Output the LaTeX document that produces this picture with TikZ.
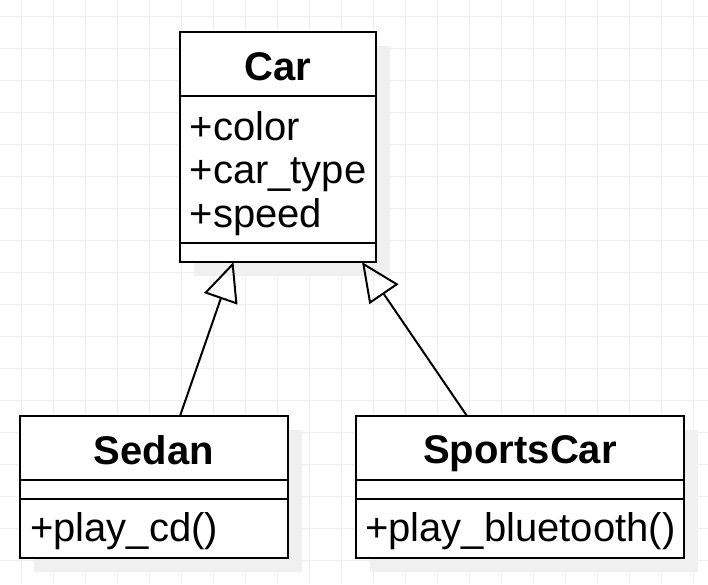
\documentclass[tikz,border=0pt]{standalone}
\usepackage{fontspec}
\setmainfont{Liberation Sans}
\usetikzlibrary{arrows.meta}
\definecolor{gridc}{HTML}{EFEFEF}
\definecolor{shadowc}{HTML}{F0F0F0}
\tikzset{
  classbox/.style={draw=black, line width=2pt, fill=white, rectangle, inner sep=0pt, outer sep=0pt},
  shadowbox/.style={fill=shadowc},
  sepline/.style={draw=black, line width=2pt},
  classname/.style={anchor=base, inner sep=0pt, font=\fontsize{40}{44}\selectfont\bfseries},
  member/.style={anchor=base west, inner sep=0pt, font=\fontsize{40}{44}\selectfont},
  inherits/.style={draw=black, line width=2pt, -{Triangle[open, length=39pt, width=35pt, line width=2pt]}},
}
\begin{document}
\begin{tikzpicture}[x=1pt, y=-1pt]
\useasboundingbox (0,0) rectangle (708,584);
\fill[white] (0,0) rectangle (708,584);
% grid
\foreach \x in {21,53,...,700} \draw[gridc, line width=1pt] (\x,0) -- (\x,584);
\foreach \y in {16.5,48.5,...,584} \draw[gridc, line width=1pt] (0,\y) -- (708,\y);
% shadows
\fill[shadowc] (194,46) rectangle (390,276);
\fill[shadowc] (34,430) rectangle (302,572);
\fill[shadowc] (370,430) rectangle (698,572);
% Car
\node[classbox, minimum width=196pt, minimum height=230pt] (car) at (278,147) {};
\draw[sepline] (car.west |- 0,96) -- (car.east |- 0,96);
\draw[sepline] (car.west |- 0,243) -- (car.east |- 0,243);
\node[classname] (carname) at (278,80.5) {Car};
\node[member] (carcolor) at (189.5,140) {+color};
\node[member] (cartype) at (189.5,183.5) {+car\_type};
\node[member] (carspeed) at (189.5,227) {+speed};
% Sedan
\node[classbox, minimum width=268pt, minimum height=142pt] (sedan) at (154,487) {};
\draw[sepline] (sedan.west |- 0,480) -- (sedan.east |- 0,480);
\draw[sepline] (sedan.west |- 0,499) -- (sedan.east |- 0,499);
\node[classname] (sedanname) at (154,464.3) {Sedan};
\node[member] (sedanop) at (30,541) {+play\_cd()};
% SportsCar
\node[classbox, minimum width=328pt, minimum height=142pt] (sports) at (520,487) {};
\draw[sepline] (sports.west |- 0,480) -- (sports.east |- 0,480);
\draw[sepline] (sports.west |- 0,499) -- (sports.east |- 0,499);
\node[classname] (sportsname) at (520,463.8) {SportsCar};
\node[member] (sportsop) at (365,541) {+play\_bluetooth()};
% inheritance
\draw[inherits] (sedan.north -| 180,0) -- (car.south -| 233.5,0);
\draw[inherits] (sports.north -| 467,0) -- (car.south -| 362,0);
\end{tikzpicture}
\end{document}
